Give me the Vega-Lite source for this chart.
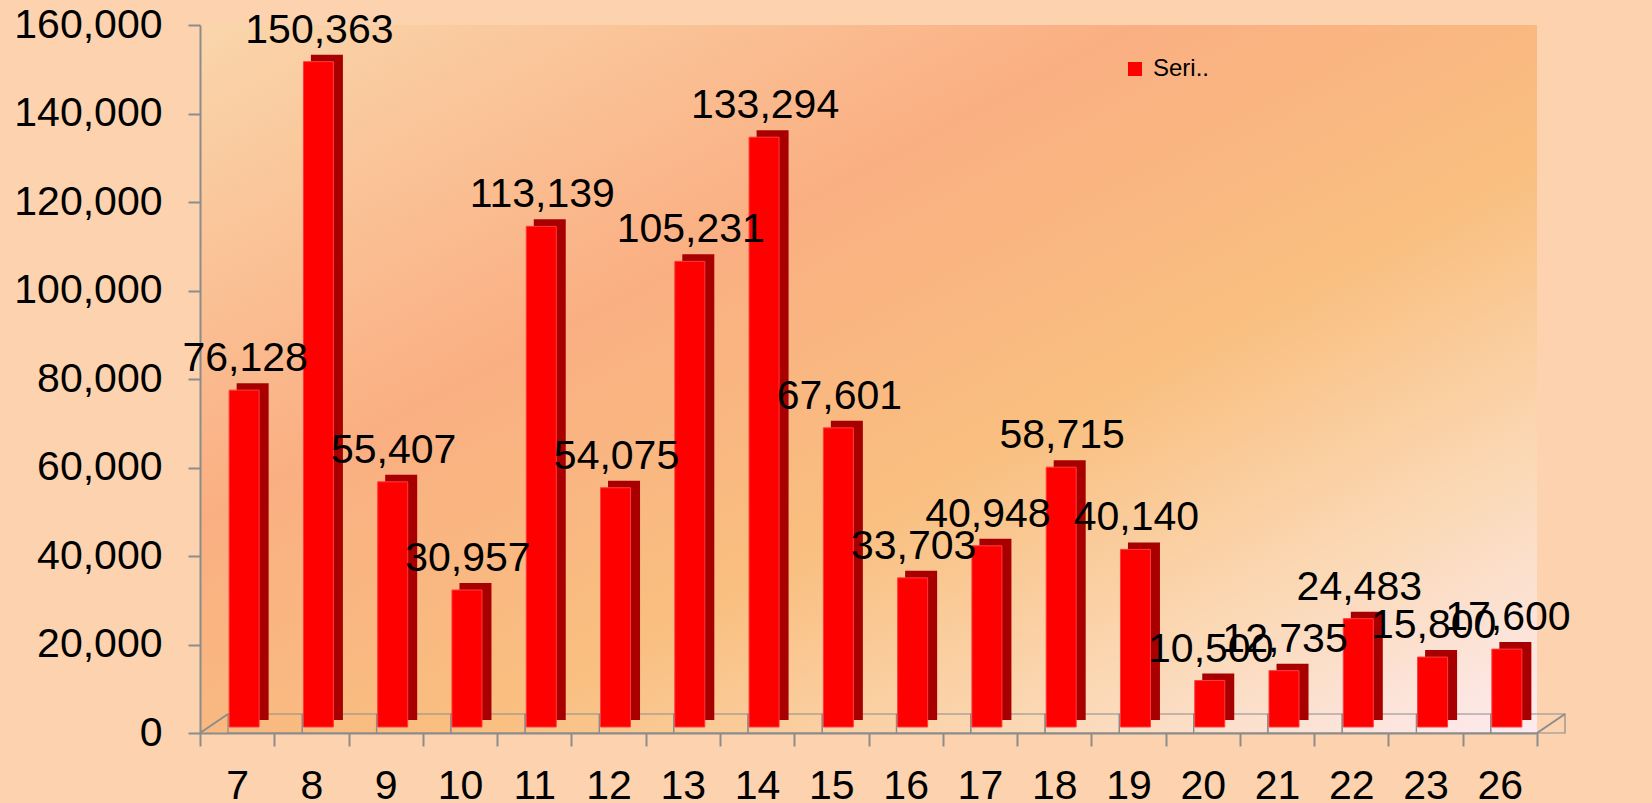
{
  "$schema": "https://vega.github.io/schema/vega-lite/v6.json",
  "autosize": {"type": "none"},
  "width": 1337,
  "height": 708,
  "padding": {"left": 200, "top": 25, "right": 115, "bottom": 70},
  "background": "#FCD3AE",
  "view": {
    "stroke": null,
    "fill": {
      "gradient": "linear",
      "x1": 0, "y1": 0, "x2": 1, "y2": 1,
      "stops": [
        {"offset": 0, "color": "#FAD6AC"},
        {"offset": 0.35, "color": "#FAAF82"},
        {"offset": 0.6, "color": "#F9BF80"},
        {"offset": 0.8, "color": "#FBD8B4"},
        {"offset": 1, "color": "#FDEBF0"}
      ]
    }
  },
  "data": {
    "values": [
      {"cat": "7", "value": 76128},
      {"cat": "8", "value": 150363},
      {"cat": "9", "value": 55407},
      {"cat": "10", "value": 30957},
      {"cat": "11", "value": 113139},
      {"cat": "12", "value": 54075},
      {"cat": "13", "value": 105231},
      {"cat": "14", "value": 133294},
      {"cat": "15", "value": 67601},
      {"cat": "16", "value": 33703},
      {"cat": "17", "value": 40948},
      {"cat": "18", "value": 58715},
      {"cat": "19", "value": 40140},
      {"cat": "20", "value": 10500},
      {"cat": "21", "value": 12735},
      {"cat": "22", "value": 24483},
      {"cat": "23", "value": 15800},
      {"cat": "26", "value": 17600}
    ]
  },
  "encoding": {
    "x": {
      "field": "cat",
      "type": "ordinal",
      "sort": null,
      "scale": {
        "domain": ["7", "8", "9", "10", "11", "12", "13", "14", "15", "16", "17", "18", "19", "20", "21", "22", "23", "26"],
        "paddingInner": 0,
        "paddingOuter": 0
      },
      "axis": {
        "title": null,
        "labelAngle": 0,
        "tickBand": "extent",
        "tickSize": 13,
        "labelPadding": 20
      }
    },
    "y": {
      "field": "value",
      "type": "quantitative",
      "scale": {"domain": [0, 160000], "nice": false},
      "axis": {
        "title": null,
        "tickCount": 8,
        "labelExpr": "format(datum.value, ',')",
        "grid": false,
        "tickSize": 12,
        "labelPadding": 26
      }
    }
  },
  "layer": [
    {
      "mark": {"type": "bar", "width": {"band": 1}, "fillOpacity": 0, "stroke": "#8C8C8C", "strokeWidth": 1.2, "xOffset": 28, "yOffset": -19},
      "encoding": {"y": {"datum": 0, "type": "quantitative"}, "y2": {"datum": 0}}
    },
    {
      "transform": [{"filter": "datum.cat == '7'"}],
      "mark": {"type": "point", "shape": "M0,0L1,-0.68", "size": 3136, "filled": false, "stroke": "#8C8C8C", "strokeWidth": 2, "opacity": 1},
      "encoding": {
        "x": {"field": "cat", "type": "ordinal", "bandPosition": 0},
        "y": {"datum": 0, "type": "quantitative"}
      }
    },
    {
      "transform": [{"filter": "datum.cat == '26'"}],
      "mark": {"type": "point", "shape": "M0,0L1,-0.68", "size": 3136, "filled": false, "stroke": "#8C8C8C", "strokeWidth": 2, "opacity": 1},
      "encoding": {
        "x": {"field": "cat", "type": "ordinal", "bandPosition": 1},
        "y": {"datum": 0, "type": "quantitative"}
      }
    },
    {
      "mark": {"type": "bar", "color": "#A80000", "width": 32, "xOffset": 15.5, "yOffset": -13}
    },
    {
      "mark": {"type": "bar", "width": 30, "xOffset": 7, "yOffset": -6, "stroke": "#FF3A3A", "strokeWidth": 1},
      "encoding": {
        "color": {
          "datum": "Seri..",
          "type": "nominal",
          "scale": {"range": ["#FF0000"]},
          "legend": {
            "title": null,
            "orient": "none",
            "legendX": 923,
            "legendY": 32,
            "symbolType": "square",
            "symbolSize": 196,
            "symbolStrokeWidth": 0,
            "labelFontSize": 24,
            "labelFont": "Liberation Sans",
            "labelColor": "#000000",
            "labelOffset": 6
          }
        }
      }
    },
    {
      "mark": {"type": "text", "fontSize": 41, "font": "Liberation Sans", "color": "#000000", "dy": -25, "dx": 8, "baseline": "alphabetic", "align": "center"},
      "encoding": {"text": {"field": "value", "type": "quantitative", "format": ","}}
    }
  ],
  "config": {
    "axis": {
      "domainColor": "#8C8C8C",
      "domainWidth": 2,
      "tickColor": "#8C8C8C",
      "tickWidth": 2,
      "labelFontSize": 41,
      "labelFont": "Liberation Sans",
      "labelColor": "#000000"
    },
    "axisY": {
      "labelExpr": "format(datum.value, ',')"
    }
  }
}
